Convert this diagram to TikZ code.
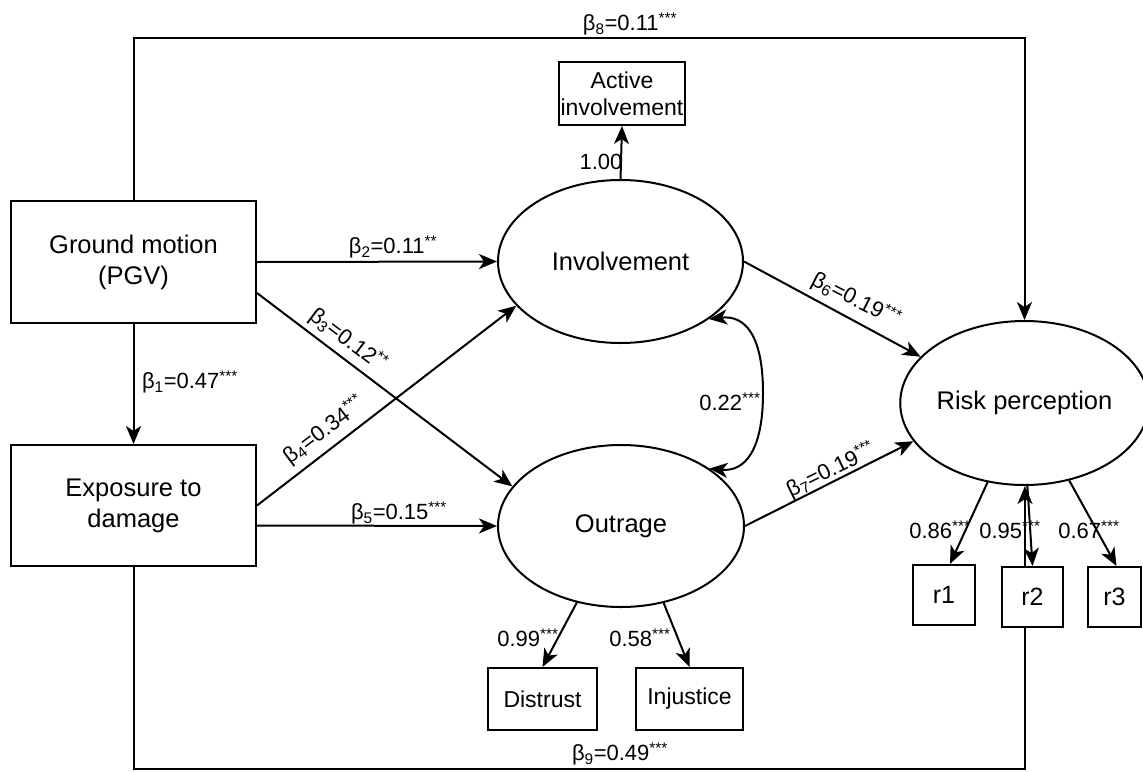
\documentclass[tikz,border=0pt]{standalone}
\usepackage{fontspec}
\setmainfont{Liberation Sans}
\usetikzlibrary{shapes.geometric,arrows.meta}
\pgfdeclarelayer{bg}
\pgfsetlayers{bg,main}
\newcommand\mycoef[3]{β\textsubscript{#1}=#2\textsuperscript{#3}}
\newcommand\myload[2]{#1\textsuperscript{#2}}
\begin{document}
\begin{tikzpicture}[x=1pt,y=-1pt,line width=2pt,
  tip/.tip={Stealth[length=18pt,width=15pt,inset=5pt]},
  arr/.style={line width=2pt,-tip},
  dbl/.style={line width=2pt,tip-tip},
  bigbox/.style={draw,line width=2pt,fill=white,rectangle,inner sep=0pt,align=center,font=\fontsize{25.5}{31}\selectfont},
  lat/.style={draw,line width=2pt,fill=white,ellipse,inner sep=0pt,font=\fontsize{25.5}{31}\selectfont},
  ind/.style={draw,line width=2pt,fill=white,rectangle,inner sep=0pt,align=center,font=\fontsize{23}{27}\selectfont},
  rbox/.style={draw,line width=2pt,fill=white,rectangle,inner sep=0pt,font=\fontsize{25}{30}\selectfont},
  lab/.style={inner sep=1pt,font=\fontsize{22}{25}\selectfont}]
\useasboundingbox (0,0) rectangle (1143,771);

% nodes
\node[bigbox,minimum width=245pt,minimum height=122pt] (gm) at (133.5,262) {Ground motion\\(PGV)};
\node[bigbox,minimum width=245pt,minimum height=121pt] (ex) at (133.5,505.5) {Exposure to\\damage};
\node[ind,minimum width=126pt,minimum height=63pt] (act) at (622,93.5) {Active\\involvement};
\node[lat,minimum width=245pt,minimum height=163pt] (inv) at (620.5,261.5) {Involvement};
\node[lat,minimum width=246pt,minimum height=162pt] (out) at (621,526) {Outrage};
\node[lat,minimum width=197pt,minimum height=164pt] (risk) at (1024.5,403) {Risk perception};
\node[ind,minimum width=109pt,minimum height=62pt] (dis) at (542.5,699) {Distrust};
\node[ind,minimum width=107pt,minimum height=62pt] (inj) at (689.5,699) {Injustice};
\node[rbox,minimum width=62pt,minimum height=60pt] (r1) at (944,595) {r1};
\node[rbox,minimum width=61pt,minimum height=60pt] (r2) at (1032.5,597) {r2};
\node[rbox,minimum width=53pt,minimum height=60pt] (r3) at (1114.5,597) {r3};

% coordinates for frame lines
\coordinate (tl) at (133.5,38);
\coordinate (tr) at (1024.5,38);
\coordinate (bl) at (133.5,769);
\coordinate (br) at (1025,769);

% connectors
\draw[arr] (gm.north) -- (tl) -- (tr) -- (risk.north);
\begin{pgfonlayer}{bg}
\draw[arr] (ex.south) -- (bl) -- (br) -- (br |- risk.south);
\end{pgfonlayer}
\draw[arr] (gm.south) -- (ex.north);
\draw[arr] (gm.east) -- (inv.west);
\draw[arr] ([yshift=-31pt]gm.east) -- (out.160);
\draw[arr] (ex.east) -- (inv.203);
\draw[arr] ([yshift=-20pt]ex.east) -- (out.west);
\draw[arr] (inv.north) -- (act.south);
\draw[arr] (inv.east) -- (risk.156);
\draw[arr] (out.east) -- (risk.199);
\draw[dbl] (inv.-33) .. controls (745,315) and (763,335) .. (763,393) .. controls (763,450) and (745,472) .. (out.33);
\draw[arr] (out.240) -- (dis.north);
\draw[arr] (out.-61) -- (inj.north);
\draw[arr] (risk.245) -- ([xshift=6pt]r1.north);
\draw[arr] (risk.272) -- (r2.north);
\draw[arr] (risk.-60) -- ([xshift=2pt]r3.north);

% labels
\node[lab] (l8) at (630,24) {\mycoef{8}{0.11}{***}};
\node[lab] (l100) at (601,162) {1.00};
\node[lab] (l1) at (190,382) {\mycoef{1}{0.47}{***}};
\node[lab] (l2) at (393,247) {\mycoef{2}{0.11}{**}};
\node[lab,rotate=-37] (l3) at (348,340) {\mycoef{3}{0.12}{**}};
\node[lab,rotate=37] (l4) at (324,430) {\mycoef{4}{0.34}{***}};
\node[lab] (l5) at (399,513) {\mycoef{5}{0.15}{***}};
\node[lab,rotate=-27] (l6) at (856,300) {\mycoef{6}{0.19}{***}};
\node[lab,rotate=26] (l7) at (831,470) {\mycoef{7}{0.19}{***}};
\node[lab] (l22) at (730,402) {\myload{0.22}{***}};
\node[lab] (l86) at (940,530) {\myload{0.86}{***}};
\node[lab] (l95) at (1010,530) {\myload{0.95}{***}};
\node[lab] (l67) at (1089,530) {\myload{0.67}{***}};
\node[lab] (l99) at (528,638) {\myload{0.99}{***}};
\node[lab] (l58) at (640,638) {\myload{0.58}{***}};
\node[lab] (l9) at (620,754) {\mycoef{9}{0.49}{***}};
\end{tikzpicture}
\end{document}
